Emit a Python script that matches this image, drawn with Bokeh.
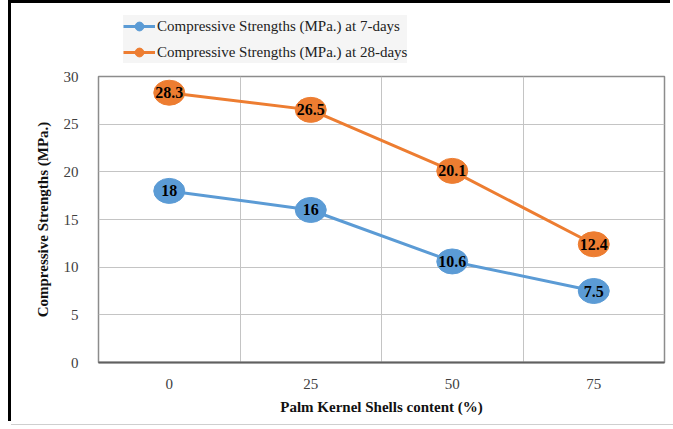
from bokeh.plotting import figure
from bokeh.layouts import column
from bokeh.models import FixedTicker, Legend, LegendItem, ColumnDataSource, LabelSet
from bokeh.embed import file_html
from bokeh.resources import INLINE

categories = ["0", "25", "50", "75"]
days7 = [18, 16, 10.6, 7.5]
days28 = [28.3, 26.5, 20.1, 12.4]
series_names = ["Compressive Strengths (MPa.) at 7-days", "Compressive Strengths (MPa.) at 28-days"]
colors = ["#5B9BD5", "#ED7D31"]

xs = list(range(len(categories)))
FONT = "'Liberation Serif'"

# legend strip (series drawn out of its visible range, used only for the legend glyphs)
top = figure(width=662, height=65, output_backend="svg", toolbar_location=None,
             x_range=(-0.5, 3.5), y_range=(100, 101), min_border=0)
top.axis.visible = False
top.grid.visible = False
top.outline_line_color = None

items = []
for vals, name, col in zip([days7, days28], series_names, colors):
    ln = top.line(x=xs, y=vals, line_color=col, line_width=3)
    sc = top.scatter(x=xs, y=vals, size=9, fill_color=col, line_color=col)
    items.append(LegendItem(label=name, renderers=[ln, sc]))
legend = Legend(items=items, location=(25, 5), orientation="vertical",
                label_text_font=FONT, label_text_font_size="15px", label_text_color="#222222",
                background_fill_color="#f5f5f5", background_fill_alpha=1,
                border_line_color=None, glyph_width=32, label_standoff=2,
                spacing=4, padding=3, margin=0, label_height=22, glyph_height=22)
top.add_layout(legend)

p = figure(width=662, height=356, output_backend="svg", toolbar_location=None,
           x_range=(-0.5, 3.5), y_range=(0, 30),
           min_border_left=87, min_border_right=9, min_border_top=8, min_border_bottom=62)
p.outline_line_color = "#8c8c8c"
p.outline_line_width = 1.5

p.xaxis.ticker = FixedTicker(ticks=xs)
p.xaxis.major_label_overrides = {i: c for i, c in zip(xs, categories)}
p.yaxis.ticker = FixedTicker(ticks=[0, 5, 10, 15, 20, 25, 30])
p.xgrid.ticker = FixedTicker(ticks=[0.5, 1.5, 2.5])
p.ygrid.ticker = FixedTicker(ticks=[5, 10, 15, 20, 25])
p.xgrid.grid_line_color = "#c4c4c4"
p.ygrid.grid_line_color = "#c4c4c4"

for ax in (p.xaxis, p.yaxis):
    ax.major_tick_line_color = None
    ax.minor_tick_line_color = None
    ax.major_label_text_font = FONT
    ax.major_label_text_font_size = "15px"
    ax.major_label_text_color = "#404040"
    ax.axis_label_text_font = FONT
    ax.axis_label_text_font_style = "bold"
    ax.axis_label_text_font_size = "15px"
    ax.axis_label_text_color = "#111111"
p.xaxis.axis_line_color = "#606060"
p.xaxis.axis_line_width = 2
p.yaxis.axis_line_color = None
p.xaxis.axis_label = "Palm Kernel Shells content (%)"
p.yaxis.axis_label = "Compressive Strengths (MPa.)"
p.xaxis.major_label_standoff = 10
p.yaxis.major_label_standoff = 14
p.xaxis.axis_label_standoff = 7
p.yaxis.axis_label_standoff = 10

for vals, col in zip([days7, days28], colors):
    src = ColumnDataSource(dict(x=xs, y=vals, t=[str(v) for v in vals]))
    p.line("x", "y", source=src, line_color=col, line_width=3)
    p.ellipse("x", "y", source=src, width=31, height=25, width_units="screen",
              height_units="screen", fill_color=col, line_color=col)
    p.add_layout(LabelSet(x="x", y="y", text="t", source=src, text_align="center",
                          text_baseline="middle", text_font=FONT, text_font_style="bold",
                          text_font_size="16px", text_color="black"))

layout = column(top, p, spacing=0, margin=(3, 0, 1, 11))
layout.styles = {"box-shadow": "-3px -3px 0 0 #000000, 0 1px 0 0 #cfcfcf"}
open("out.html", "w").write(file_html(layout, INLINE))
